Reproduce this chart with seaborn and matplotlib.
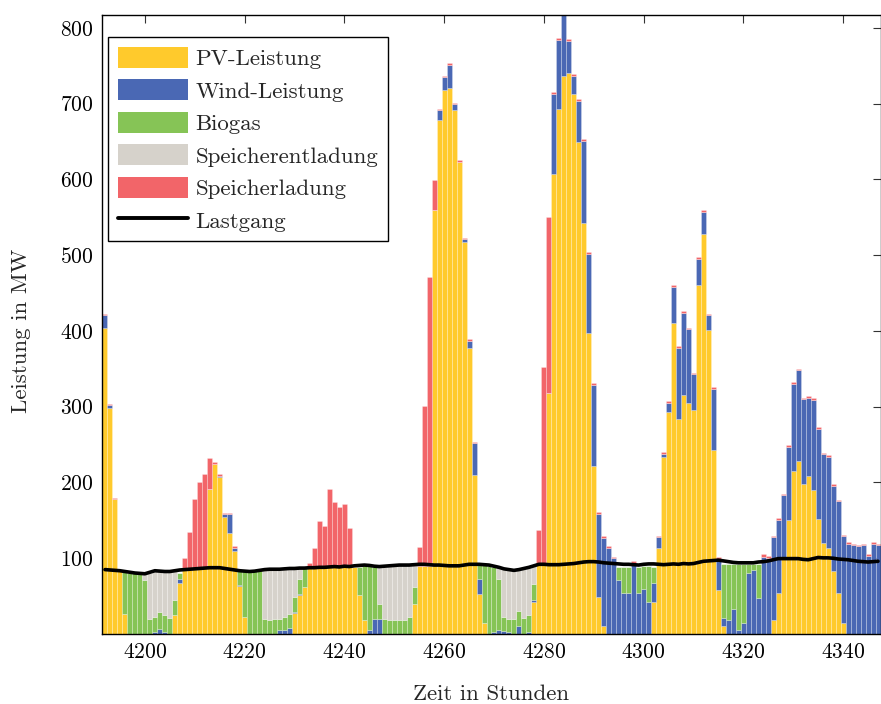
import matplotlib
matplotlib.use("Agg")
import matplotlib.pyplot as plt
import seaborn as sns
import pandas as pd
from matplotlib.patches import Patch
from matplotlib.lines import Line2D

# Stunden 4192 .. 4347
hours = list(range(4192, 4348))

pv = [404, 298, 178, 83, 27, 0, 0, 0, 0, 0,
      0, 0, 0, 0, 25, 67, 85, 85, 86, 86,
      87, 192, 224, 207, 155, 133, 110, 63, 23, 0,
      0, 0, 0, 0, 0, 0, 0, 0, 28, 51,
      62, 87, 87, 88, 88, 88, 89, 88, 89, 89,
      88, 51, 18, 0, 0, 0, 0, 0, 0, 0,
      0, 0, 40, 90, 90, 90, 560, 678, 718, 721,
      692, 623, 518, 378, 210, 53, 14, 0, 0, 0,
      0, 0, 0, 0, 0, 0, 42, 91, 91, 318,
      607, 693, 737, 740, 713, 649, 543, 397, 222, 49,
      10, 0, 0, 0, 0, 0, 0, 0, 0, 0,
      42, 114, 233, 293, 410, 284, 316, 305, 295, 460,
      528, 401, 243, 58, 11, 0, 0, 0, 0, 0,
      0, 0, 0, 0, 18, 54, 102, 150, 215, 228,
      198, 208, 190, 152, 120, 114, 83, 54, 14, 0,
      0, 0, 0, 0, 0, 0]

wind = [17, 4, 0, 0, 0, 0, 0, 0, 0, 0,
        2, 7, 3, 0, 0, 5, 0, 0, 0, 0,
        0, 0, 0, 2, 3, 25, 4, 2, 0, 0,
        0, 0, 0, 0, 0, 5, 5, 8, 1, 2,
        0, 0, 0, 0, 0, 0, 0, 0, 0, 0,
        1, 1, 0, 5, 20, 20, 0, 0, 0, 0,
        0, 0, 0, 0, 0, 0, 0, 13, 17, 30,
        7, 0, 3, 9, 42, 20, 0, 0, 2, 5,
        4, 2, 0, 11, 0, 3, 3, 0, 0, 0,
        106, 91, 90, 43, 24, 55, 108, 105, 107, 110,
        117, 114, 100, 71, 54, 54, 92, 54, 60, 42,
        25, 14, 5, 12, 48, 94, 108, 97, 48, 35,
        29, 20, 81, 40, 10, 19, 33, 5, 14, 80,
        85, 47, 102, 100, 110, 97, 81, 97, 115, 120,
        112, 104, 119, 119, 117, 120, 113, 121, 115, 119,
        117, 116, 117, 103, 119, 117]

biogas = [0, 0, 0, 0, 55, 81, 80, 80, 71, 20,
          20, 22, 22, 21, 20, 9, 0, 0, 0, 0,
          0, 0, 0, 0, 0, 0, 0, 18, 60, 82,
          83, 84, 20, 19, 20, 15, 18, 19, 20, 19,
          25, 0, 0, 0, 0, 0, 0, 0, 0, 0,
          0, 37, 73, 85, 69, 20, 20, 19, 19, 19,
          19, 22, 22, 0, 0, 0, 0, 0, 0, 0,
          0, 0, 0, 0, 0, 18, 77, 90, 87, 68,
          19, 18, 20, 20, 21, 22, 21, 0, 0, 0,
          0, 0, 0, 0, 0, 0, 0, 0, 0, 0,
          0, 0, 0, 18, 35, 35, 0, 35, 30, 48,
          22, 0, 0, 0, 0, 0, 0, 0, 0, 0,
          0, 0, 0, 0, 72, 74, 60, 88, 79, 13,
          8, 46, 0, 0, 0, 0, 0, 0, 0, 0,
          0, 0, 0, 0, 0, 0, 0, 0, 0, 0,
          0, 0, 0, 0, 0, 0]

discharge = [0, 0, 0, 0, 0, 0, 0, 0, 9, 61,
             61, 54, 57, 61, 38, 0, 0, 0, 0, 0,
             0, 0, 0, 0, 0, 0, 0, 0, 0, 0,
             0, 0, 65, 66, 65, 65, 63, 59, 37, 15,
             0, 0, 0, 0, 0, 0, 0, 0, 0, 0,
             0, 0, 0, 0, 0, 49, 69, 71, 71, 72,
             72, 69, 29, 0, 0, 0, 0, 0, 0, 0,
             0, 0, 0, 0, 0, 0, 0, 0, 0, 15,
             63, 65, 64, 54, 65, 63, 24, 0, 0, 0] + [0] * 66

charge = [2, 2, 1, 0, 0, 0, 0, 0, 0, 0,
          0, 0, 0, 0, 0, 0, 15, 49, 92, 114,
          124, 40, 3, 2, 2, 2, 2, 0, 0, 0,
          0, 0, 0, 0, 0, 0, 0, 0, 0, 0,
          0, 7, 27, 61, 54, 103, 85, 80, 83, 51,
          0, 0, 0, 0, 0, 0, 0, 0, 0, 0,
          0, 0, 0, 25, 211, 381, 39, 2, 2, 2,
          2, 3, 2, 2, 2, 0, 0, 0, 0, 0,
          0, 0, 0, 0, 0, 0, 0, 46, 262, 232,
          2, 2, 2, 2, 2, 2, 2, 2, 2, 2,
          2, 2, 2, 0, 0, 0, 5, 0, 0, 0,
          0, 2, 2, 2, 2, 2, 2, 2, 2, 2,
          2, 2, 2, 3, 0, 0, 0, 0, 0, 0,
          0, 0, 3, 3, 2, 2, 2, 2, 2, 2,
          2, 2, 2, 2, 2, 2, 2, 2, 2, 2,
          2, 2, 2, 2, 2, 2]

load = [85, 84.5, 84, 83.5, 82.5, 81.5, 80.5, 80, 79.5, 81.5,
        83.5, 83, 82.5, 82.5, 83.5, 84.5, 85, 85.5, 86, 86.5,
        87, 87.5, 87.5, 87.5, 86.5, 85.5, 84.5, 83.5, 83, 82.5,
        83, 84, 85, 85.5, 85.5, 85.5, 86, 86.5, 86.5, 87,
        87, 87.5, 87.5, 88, 88, 88.5, 89, 88.5, 89.5, 89,
        90, 90.5, 91, 90.5, 89.5, 89, 89.5, 90, 90.5, 91,
        91, 91, 91.5, 92, 92, 91.5, 91, 91, 90.5, 90,
        90, 90, 91, 92, 92, 92, 91.5, 91, 89.5, 88,
        86, 85, 84, 85, 86.5, 88, 90, 92, 92, 91.5,
        91.5, 91.5, 92, 92.5, 93, 94, 95, 95.5, 95.5, 95,
        94, 93.5, 93, 92.5, 92, 92, 91.5, 91, 92, 92.5,
        92.5, 92, 91.5, 92, 92.5, 92, 93, 92.5, 93, 94.5,
        96, 96.5, 97, 97.5, 96.5, 95.5, 94.5, 94, 94, 94,
        94, 95, 95.5, 96.5, 98, 99.5, 99.5, 99.5, 99.5, 99.5,
        98.5, 98, 99.5, 101, 100.5, 100.5, 100, 99, 98.5, 98,
        97, 96, 95.5, 95, 95.5, 96]

labels = ["PV-Leistung", "Wind-Leistung", "Biogas",
          "Speicherentladung", "Speicherladung"]
colors = {"PV-Leistung": "#ffca2c",
          "Wind-Leistung": "#4a68b4",
          "Biogas": "#86c456",
          "Speicherentladung": "#d6d2cb",
          "Speicherladung": "#f26569"}
series = [pv, wind, biogas, discharge, charge]

rows = []
for name, vals in zip(labels, series):
    for h, v in zip(hours, vals):
        rows.append({"Stunde": h, "Wert": v, "Art": name})
df = pd.DataFrame(rows)

sns.set_theme(style="white")
plt.rcParams["font.family"] = ["cmr10", "DejaVu Serif"]
plt.rcParams["mathtext.fontset"] = "cm"
plt.rcParams["axes.formatter.use_mathtext"] = True

fig = plt.figure(figsize=(8.81, 7.04), dpi=100)
ax = fig.add_axes([102 / 881, 1 - 634 / 704, 778.5 / 881, 619 / 704])

# seaborn stacks the last hue level at the bottom
sns.histplot(data=df, x="Stunde", weights="Wert", hue="Art",
             hue_order=labels[::-1], palette=colors, multiple="stack",
             discrete=True, shrink=1, alpha=1, element="bars",
             edgecolor=(1, 1, 1, 0.35), linewidth=0.5, legend=False, ax=ax)

sns.lineplot(x=hours, y=load, color="black", linewidth=2.6, ax=ax)

ax.set_xlim(4191.4, 4347.5)
ax.set_ylim(0, 817)
ax.set_xticks(range(4200, 4341, 20))
ax.set_yticks(range(100, 801, 100))
ax.set_axisbelow(True)
ax.tick_params(direction="in", length=6, width=0.8, color="#333333",
               labelsize=15.5, top=True, right=True, pad=6, labelcolor="black")
for s in ax.spines.values():
    s.set_color("black")
    s.set_linewidth(1.0)

ax.set_xlabel("Zeit in Stunden", fontsize=16.5)
ax.set_ylabel("Leistung in MW", fontsize=16.5)
ax.xaxis.set_label_coords(0.5, -0.081)
ax.yaxis.set_label_coords(-0.091, 0.49)

handles = [Patch(facecolor=colors[n], edgecolor="none") for n in labels]
handles.append(Line2D([0], [0], color="black", linewidth=2.8))
leg = ax.legend(handles, labels + ["Lastgang"], loc="upper left",
                bbox_to_anchor=(0.0077, 0.9645), borderaxespad=0,
                fontsize=16.5, frameon=True, fancybox=False,
                handlelength=3.05, handleheight=1.05, handletextpad=0.34,
                labelspacing=0.44, borderpad=0.42)
leg.get_frame().set_edgecolor("black")
leg.get_frame().set_linewidth(1.0)
leg.get_frame().set_alpha(1)

fig.savefig("out.png", dpi=100)
